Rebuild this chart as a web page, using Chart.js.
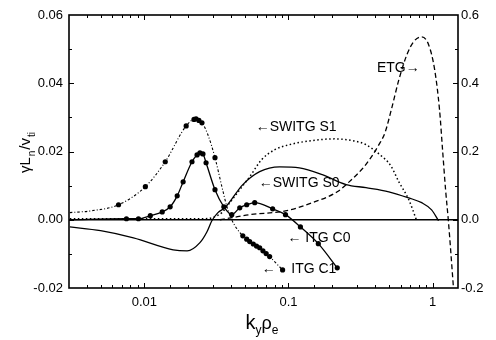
<!DOCTYPE html>
<html>
<head>
<meta charset="utf-8">
<script src="https://cdn.jsdelivr.net/npm/chart.js@4.4.1/dist/chart.umd.min.js"></script>
<style>
  html, body { margin: 0; padding: 0; background: #fff; }
</style>
</head>
<body>
<canvas id="growthChart" width="496" height="340"></canvas>
<script>
  'use strict';

  // ITG C1 (left axis) - dash-dot curve plus its markers
  var itgC1K = [0.00304, 0.00425, 0.00662, 0.01016, 0.01396, 0.0195, 0.02284, 0.0251, 0.0276, 0.0309, 0.0345, 0.0374, 0.0404, 0.0438, 0.0482, 0.0538, 0.0631, 0.0740, 0.0910];
  var itgC1G = [0.0021, 0.0026, 0.0044, 0.0097, 0.0170, 0.0275, 0.0296, 0.0284, 0.0249, 0.0182, 0.0097, 0.0038, 0.0, -0.0026, -0.0047, -0.0064, -0.0082, -0.0108, -0.0147];
  var itgC1MarkK = [0.00662, 0.01016, 0.01396, 0.0195, 0.0221, 0.02284, 0.0239, 0.0251, 0.0309, 0.0482, 0.0513, 0.0538, 0.0570, 0.0600, 0.0631, 0.0665, 0.0700, 0.0740, 0.0910];
  var itgC1MarkG = [0.0044, 0.0097, 0.0170, 0.0275, 0.0294, 0.0296, 0.0291, 0.0284, 0.0182, -0.0047, -0.0057, -0.0064, -0.0071, -0.0077, -0.0082, -0.0091, -0.0099, -0.0108, -0.0147];

  // ITG C0 (left axis) - solid with markers
  var itgC0K = [0.00304, 0.00751, 0.0091, 0.0110, 0.0133, 0.0151, 0.0169, 0.01858, 0.0214, 0.0232, 0.0243, 0.0255, 0.0268, 0.0309, 0.0356, 0.0404, 0.0459, 0.0513, 0.0583, 0.0776, 0.0953, 0.121, 0.161, 0.218];
  var itgC0G = [0.0, 0.0003, 0.0003, 0.0012, 0.0023, 0.0038, 0.0070, 0.0111, 0.0170, 0.0190, 0.0196, 0.0193, 0.0167, 0.0088, 0.0038, 0.0015, 0.0035, 0.0044, 0.0050, 0.0032, 0.0015, -0.0021, -0.0070, -0.0141];

  // SWITG S0 (right axis) - solid
  var switgS0K = [0.00304, 0.00497, 0.0084, 0.01585, 0.0198, 0.0243, 0.0272, 0.0294, 0.0324, 0.0362, 0.0482, 0.0631, 0.0867, 0.119, 0.1716, 0.251, 0.345, 0.497, 0.683, 0.84, 0.984, 1.099];
  var switgS0G = [-0.021, -0.032, -0.053, -0.088, -0.091, -0.067, -0.035, -0.003, 0.021, 0.035, 0.103, 0.141, 0.155, 0.152, 0.132, 0.103, 0.094, 0.082, 0.064, 0.050, 0.029, -0.003];

  // SWITG S1 (right axis) - dotted
  var switgS1K = [0.00304, 0.011, 0.0264, 0.0309, 0.0345, 0.0392, 0.0459, 0.0538, 0.0651, 0.080, 0.1016, 0.1396, 0.2076, 0.285, 0.345, 0.424, 0.513, 0.583, 0.683, 0.776];
  var switgS1G = [0.003, 0.003, 0.003, 0.009, 0.021, 0.050, 0.088, 0.126, 0.176, 0.205, 0.220, 0.231, 0.237, 0.231, 0.220, 0.193, 0.158, 0.111, 0.059, -0.003];

  // ETG (right axis) - dashed
  var etgK = [0.0334, 0.0404, 0.0538, 0.0953, 0.1465, 0.218, 0.2636, 0.334, 0.373, 0.424, 0.467, 0.521, 0.583, 0.662, 0.739, 0.84, 0.938, 1.033, 1.117, 1.172, 1.23, 1.288, 1.395];
  var etgG = [0.0, 0.006, 0.015, 0.026, 0.050, 0.082, 0.111, 0.155, 0.182, 0.220, 0.255, 0.328, 0.410, 0.483, 0.522, 0.536, 0.513, 0.440, 0.322, 0.205, 0.088, -0.006, -0.199];

  // curve labels, anchored in (k, right-axis) data units
  var noteText = ['ETG\u2192', '\u2190SWITG S1', '\u2190SWITG S0', '\u2190 ITG C0', '\u2190    ITG C1'];
  var noteK = [0.411, 0.0592, 0.0621, 0.0984, 0.0652];
  var noteG = [0.445, 0.272, 0.108, -0.053, -0.144];

  function pts(xs, ys) {
    return xs.map(function(x, i) { return { x: x, y: ys[i] }; });
  }

  Chart.defaults.font.family = "'Liberation Sans', Arial, sans-serif";
  Chart.defaults.color = '#000';

  // frame, inward ticks, axis titles and curve labels
  var decorations = {
    id: 'decorations',
    afterDatasetsDraw: function(chart) {
      var c = chart.ctx, a = chart.chartArea;
      var sx = chart.scales.x, sy = chart.scales.y, sy2 = chart.scales.y2;
      c.save();
      c.strokeStyle = '#000';
      c.lineWidth = 1;
      c.beginPath();
      sx.ticks.forEach(function(t) {
        if (t.value <= sx.min || t.value >= sx.max) return;
        var p = Math.round(sx.getPixelForValue(t.value)) + 0.5;
        var len = t.label ? 5 : 3;
        c.moveTo(p, a.bottom); c.lineTo(p, a.bottom - len);
        c.moveTo(p, a.top); c.lineTo(p, a.top + len);
      });
      sy.ticks.forEach(function(t) {
        if (t.value <= sy.min || t.value >= sy.max) return;
        var p = Math.round(sy.getPixelForValue(t.value)) + 0.5;
        var len = t.label ? 5 : 3;
        c.moveTo(a.left, p); c.lineTo(a.left + len, p);
      });
      sy2.ticks.forEach(function(t) {
        if (t.value <= sy2.min || t.value >= sy2.max) return;
        var p = Math.round(sy2.getPixelForValue(t.value)) + 0.5;
        var len = t.label ? 5 : 3;
        c.moveTo(a.right, p); c.lineTo(a.right - len, p);
      });
      c.stroke();

      c.lineWidth = 1.6;
      c.strokeRect(a.left, a.top, a.right - a.left, a.bottom - a.top);

      // curve labels
      c.fillStyle = '#000';
      c.font = "14px 'Liberation Sans', Arial, sans-serif";
      c.textBaseline = 'middle';
      c.textAlign = 'left';
      noteText.forEach(function(txt, i) {
        c.fillText(txt, sx.getPixelForValue(noteK[i]), sy2.getPixelForValue(noteG[i]));
      });

      // y title: gamma L_n / v_ti (rotated)
      c.save();
      c.translate(30, 152);
      c.rotate(-Math.PI / 2);
      c.textBaseline = 'alphabetic';
      var parts = [['\u03b3L', false], ['n', true], ['/v', false], ['ti', true]];
      var big = "15px 'Liberation Sans', Arial, sans-serif";
      var small = "10px 'Liberation Sans', Arial, sans-serif";
      var total = 0;
      parts.forEach(function(p) { c.font = p[1] ? small : big; total += c.measureText(p[0]).width + 1; });
      var px = -total / 2;
      parts.forEach(function(p) {
        c.font = p[1] ? small : big;
        c.fillText(p[0], px, p[1] ? 5 : 0);
        px += c.measureText(p[0]).width + 1;
      });
      c.restore();

      // x title: k_y rho_e
      var xparts = [['k', "20px 'Liberation Sans', Arial, sans-serif", 0], ['y', "12px 'Liberation Sans', Arial, sans-serif", 5],
                    ['\u03c1', "18px 'Liberation Sans', Arial, sans-serif", 0], ['e', "12px 'Liberation Sans', Arial, sans-serif", 5]];
      var w = 0;
      xparts.forEach(function(p) { c.font = p[1]; w += c.measureText(p[0]).width; });
      var xx = 262 - w / 2;
      c.textBaseline = 'alphabetic';
      xparts.forEach(function(p) {
        c.font = p[1];
        c.fillText(p[0], xx, 329 + p[2]);
        xx += c.measureText(p[0]).width;
      });
      c.restore();
    }
  };

  var solid = { borderColor: '#000', backgroundColor: '#000', borderWidth: 1.3, pointRadius: 0, fill: false, cubicInterpolationMode: 'monotone' };

  var growthChart = new Chart(document.getElementById('growthChart').getContext('2d'), {
    type: 'line',
    data: {
      datasets: [
        Object.assign({}, solid, { label: 'ITG C1', data: pts(itgC1K, itgC1G), yAxisID: 'y', borderWidth: 1.1, borderDash: [2.5, 2, 1, 2] }),
        Object.assign({}, solid, { label: 'ITG C1 points', data: pts(itgC1MarkK, itgC1MarkG), yAxisID: 'y', showLine: false, pointRadius: 2.6, pointBorderWidth: 0 }),
        Object.assign({}, solid, { label: 'ITG C0', data: pts(itgC0K, itgC0G), yAxisID: 'y',
          pointRadius: function(ctx) { return ctx.dataIndex === 0 ? 0 : 2.6; }, pointBorderWidth: 0 }),
        Object.assign({}, solid, { label: 'SWITG S0', data: pts(switgS0K, switgS0G), yAxisID: 'y2' }),
        Object.assign({}, solid, { label: 'SWITG S1', data: pts(switgS1K, switgS1G), yAxisID: 'y2', borderWidth: 1.5, borderDash: [1.5, 2.5] }),
        Object.assign({}, solid, { label: 'ETG', data: pts(etgK, etgG), yAxisID: 'y2', borderWidth: 1.3, borderDash: [5, 3] })
      ]
    },
    options: {
      responsive: false,
      animation: false,
      devicePixelRatio: 1,
      layout: { padding: { top: 15, left: 0, right: 0, bottom: 0 } },
      plugins: { legend: { display: false }, tooltip: { enabled: false } },
      scales: {
        x: {
          type: 'logarithmic',
          min: 0.003,
          max: 1.5,
          border: { display: false },
          grid: { display: false, drawTicks: false },
          ticks: {
            autoSkip: false, maxRotation: 0, padding: 7,
            font: { size: 13 },
            callback: function(v) {
              var e = Math.log10(v);
              return Math.abs(e - Math.round(e)) < 1e-6 ? String(v) : '';
            }
          },
          afterFit: function(s) { s.height = 52; }
        },
        y: {
          position: 'left',
          min: -0.02,
          max: 0.06,
          border: { display: false },
          grid: {
            drawTicks: false,
            color: function(ctx) { return ctx.tick && Math.abs(ctx.tick.value) < 1e-9 ? '#000' : 'rgba(0,0,0,0)'; },
            lineWidth: 1.5
          },
          ticks: {
            stepSize: 0.01, autoSkip: false, padding: 6,
            font: { size: 13 },
            callback: function(v) { return Math.round(v * 100) % 2 === 0 ? v.toFixed(2) : ''; }
          },
          afterFit: function(s) { s.width = 69; }
        },
        y2: {
          position: 'right',
          min: -0.2,
          max: 0.6,
          border: { display: false },
          grid: { display: false, drawTicks: false },
          ticks: {
            stepSize: 0.1, autoSkip: false, padding: 3,
            font: { size: 13 },
            callback: function(v) { return Math.round(v * 10) % 2 === 0 ? v.toFixed(1) : ''; }
          },
          afterFit: function(s) { s.width = 38; }
        }
      }
    },
    plugins: [decorations]
  });
</script>
</body>
</html>
